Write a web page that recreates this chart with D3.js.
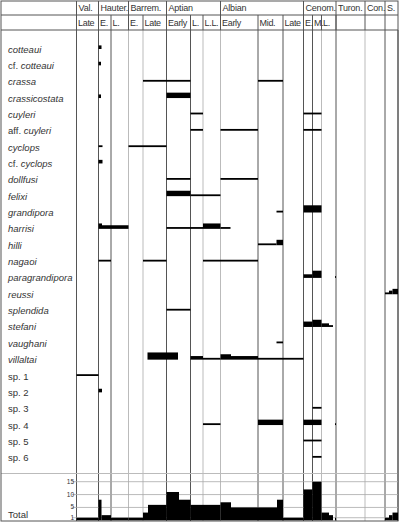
<!DOCTYPE html><html><head><meta charset="utf-8">
<script src="https://cdn.jsdelivr.net/npm/d3@7"></script>
<style>body{margin:0;background:#fff}text{font-family:"Liberation Sans",Arial,sans-serif;fill:#333}</style>
</head><body><svg id="c" width="400" height="525"></svg>
<script>
// Column-axis positions (units along the stratigraphic axis)
const boundaries = [0,22,34.5,52,66.5,90,114,126.5,144,181.5,206.5,227,236,245,259.5,288.5,308.5,321.5];
const grayBoundaries = [52,66.5,126.5,144,245,288.5];
const stages = [["Val.",0,22],["Hauter.",22,52],["Barrem.",52,90],["Aptian",90,144],["Albian",144,227],["Cenom.",227,259.5],["Turon.",259.5,288.5],["Con.",288.5,308.5],["S.",308.5,321.5]];
const substages = [["Late",0,22],["E.",22,34.5],["L.",34.5,52],["E.",52,66.5],["Late",66.5,90],["Early",90,114],["L.",114,126.5],["L.L.",126.5,144],["Early",144,181.5],["Mid.",181.5,206.5],["Late",206.5,227],["E.",227,236],["M.",236,245],["L.",245,259.5]];
const species = ["cotteaui","cf. cotteaui","crassa","crassicostata","cuyleri","aff. cuyleri","cyclops","cf. cyclops","dollfusi","felixi","grandipora","harrisi","hilli","nagaoi","paragrandipora","reussi","splendida","stefani","vaughani","villaltai","sp. 1","sp. 2","sp. 3","sp. 4","sp. 5","sp. 6"];
// ranges: [species index, start, end, abundance]
const ranges = [
[0,22,25,2],[1,22,24.5,2],[2,66.5,114,1],[2,181.5,206.5,1],[3,22,24.5,2],[3,90,114,3],
[4,114,126.5,1],[4,227,245,1],[5,114,126.5,1],[5,144,181.5,1],[5,227,245,1],
[6,22,26,1],[6,52,90,1],[7,22,26,2],[8,90,114,1],[8,144,181.5,1],[9,90,114,3],[9,114,144,1],
[10,200,206.5,1],[10,227,245,4],[11,22,25.5,3],[11,25.5,52,2],[11,90,126.5,1],[11,126.5,144,3],[11,144,154,1],
[12,181.5,200,1],[12,200,206.5,3],[13,22,34.5,1],[13,66.5,90,1],[13,126.5,181.5,1],
[14,227,236,2],[14,236,245,4],[14,258.5,259.5,1],[15,308.5,312.5,1],[15,312.5,316,2],[15,316,321.5,3],
[16,90,114,1],[17,227,236,3],[17,236,245,4],[17,245,252.5,2],[17,252.5,256.5,1],[18,200,206.5,1],
[19,71,101.5,4],[19,114,126.5,2],[19,126.5,144,1],[19,144,154.5,3],[19,154.5,181.5,2],[19,181.5,227,1],
[20,0,22,1],[21,22,25.5,2],[22,236,245,1],[23,126.5,144,1],[23,181.5,206.5,3],[23,227,245,3],[23,258.5,259.5,1],
[24,227,245,1],[25,236,245,1]];
// total species count per interval: [start, end, count]
const totals = [[0,22,1],[22,25,8],[25,34.5,2],[34.5,52,1],[52,66.5,1],[66.5,71.5,3],[71.5,90,6],[90,102.5,11],[102.5,114,8],[114,144,6],[144,154.5,7],[154.5,200.5,5],[200.5,206.5,8],[206.5,227,1],[227,236,12],[236,245,15],[245,252.5,3],[252.5,256.5,2],[258.5,259.5,1],[308.5,312.5,1],[312.5,316,2],[316,321.5,3]];
const totalTicks = [1,5,10,15];

const svg = d3.select("#c");
const x = d3.scaleLinear().domain([0,321.5]).range([76.5,398]);
const y = d3.scaleLinear().domain([0,species.length-1]).range([49,49+16.35*25]);
const h = d3.scaleLinear().domain([0,4]).range([0,7.2]);
const yt = d3.scaleLinear().domain([0,15]).range([520.3,481.7]);

svg.selectAll(".vb").data(boundaries).join("line")
 .attr("x1",d=>x(d)).attr("x2",d=>x(d)).attr("y1",30).attr("y2",521)
 .attr("stroke",d=>grayBoundaries.includes(d)?"#bbb":"#555").attr("stroke-width",1);
const stageEdges = [0,22,52,90,144,227,259.5,288.5,308.5];
svg.selectAll(".vh").data(stageEdges).join("line")
 .attr("x1",d=>x(d)).attr("x2",d=>x(d)).attr("y1",1).attr("y2",30).attr("stroke","#555");
svg.selectAll(".vh2").data(boundaries.slice(0,15)).join("line")
 .attr("x1",d=>x(d)).attr("x2",d=>x(d)).attr("y1",15).attr("y2",30).attr("stroke","#555");
[[15,"#555"],[30,"#555"],[473.5,"#bbb"]].forEach(([yy,c])=>svg.append("line").attr("x1",1).attr("x2",398).attr("y1",yy).attr("y2",yy).attr("stroke",c));
svg.append("rect").attr("x",1).attr("y",1).attr("width",397).attr("height",520).attr("fill","none").attr("stroke","#555");

svg.selectAll(".st").data(stages).join("text").attr("x",d=>x(d[1])+2).attr("y",11).attr("font-size",9).attr("letter-spacing",-0.2).text(d=>d[0]);
svg.selectAll(".ss").data(substages).join("text").attr("x",d=>x(d[1])+1.5).attr("y",26).attr("font-size",9).attr("letter-spacing",-0.3).text(d=>d[0]);

const lab = svg.selectAll(".lab").data(species).join("text").attr("x",8).attr("y",(d,i)=>y(i)+3.5).attr("font-size",9.5);
lab.each(function(d){
  const t=d3.select(this);
  const m=d.match(/^(cf\. |aff\. )(.*)$/);
  if(d.startsWith("sp.")) t.text(d);
  else if(m){t.append("tspan").text(m[1]);t.append("tspan").attr("font-style","italic").text(m[2]);}
  else t.attr("font-style","italic").text(d);
});

svg.selectAll(".rb").data(ranges).join("rect")
 .attr("x",d=>x(d[1])).attr("width",d=>x(d[2])-x(d[1]))
 .attr("y",d=>y(d[0])-h(d[3])).attr("height",d=>h(d[3])).attr("fill","#000");

svg.selectAll(".tg").data(totalTicks).join("line").attr("x1",72).attr("x2",398)
 .attr("y1",d=>yt(d)).attr("y2",d=>yt(d)).attr("stroke","#aaa").attr("stroke-width",0.8);
svg.selectAll(".tl").data(totalTicks).join("text").attr("x",74).attr("y",d=>yt(d)+2).attr("text-anchor","end").attr("font-size",6.5).text(d=>d);
svg.selectAll(".tb").data(totals).join("rect")
 .attr("x",d=>x(d[0])).attr("width",d=>x(d[1])-x(d[0]))
 .attr("y",d=>yt(d[2])).attr("height",d=>yt(0)-yt(d[2])).attr("fill","#000");
svg.append("text").attr("x",8).attr("y",518).attr("font-size",9.5).text("Total");
</script></body></html>
